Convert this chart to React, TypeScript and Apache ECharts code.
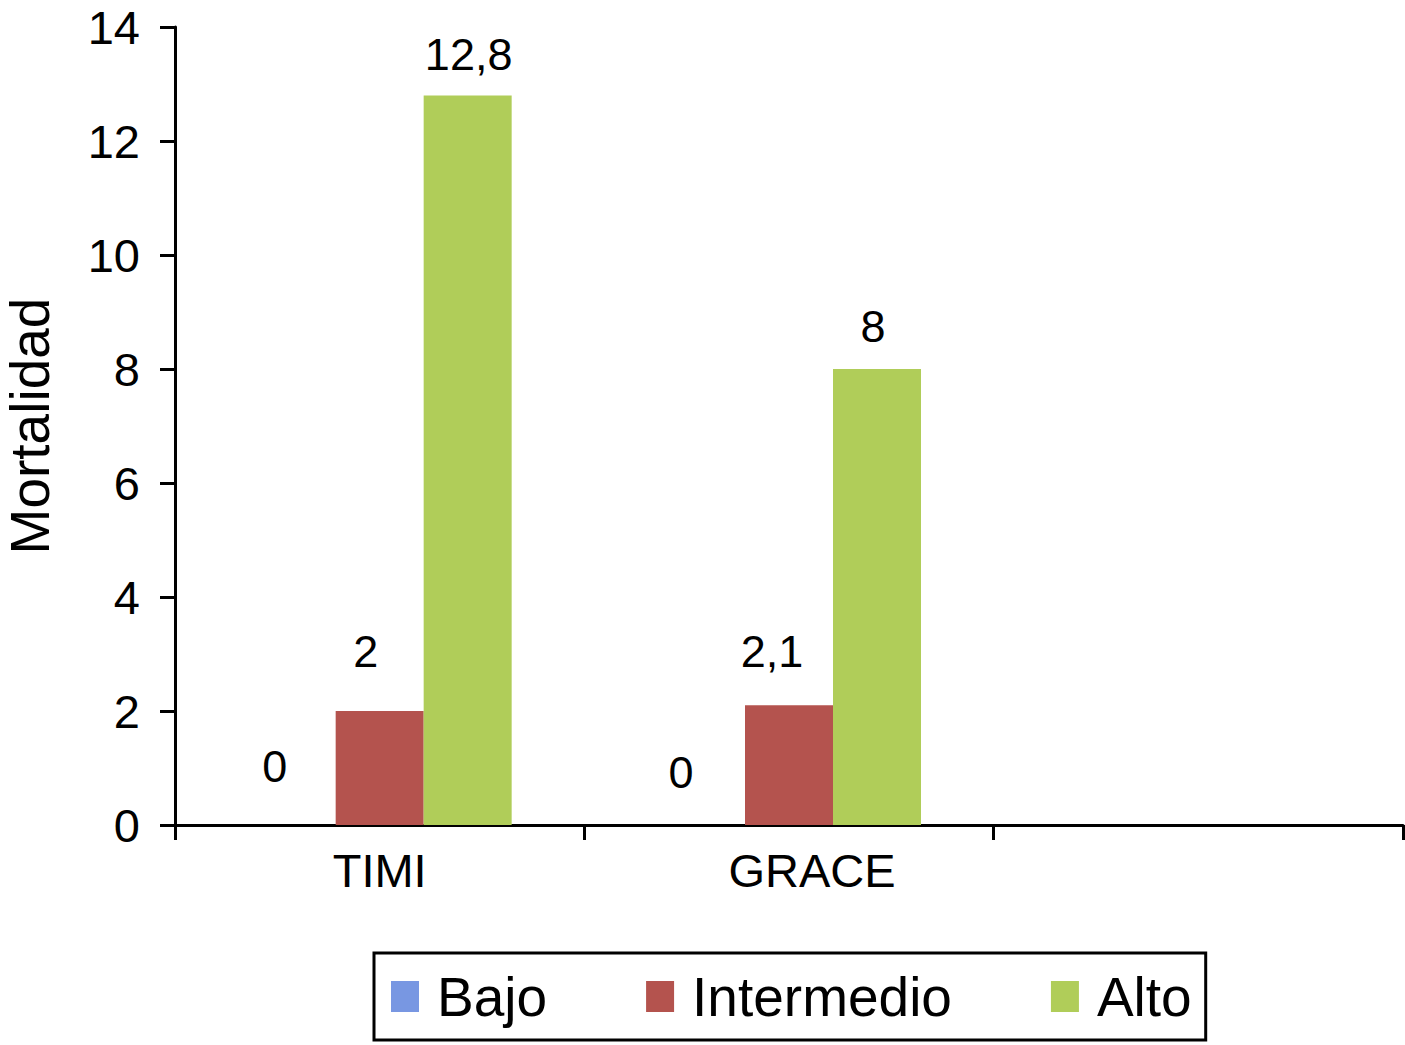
import React, { useEffect, useRef } from "react";
import * as echarts from "echarts";

const categories = ["TIMI", "GRACE", ""];
const seriesNames = ["Bajo", "Intermedio", "Alto"];
const bajo = [0, 0];
const intermedio = [2, 2.1];
const alto = [12.8, 8];
const yTicks = { min: 0, max: 14, interval: 2 };

const colors = ["#7897E2", "#B4534E", "#B0CD59"];
// label placement tweaks (style only)
const labelDx = [[-17, -20], [-14, -17], [1, -4]];
const labelDist = [[36, 30], [37, 31], [18, 20]];

const FONT = "Liberation Sans, Arial, Helvetica, sans-serif";

export default function App() {
  const ref = useRef<HTMLDivElement>(null);
  useEffect(() => {
    document.body.style.margin = "0";
    document.body.style.overflow = "hidden";
    const chart = echarts.init(ref.current!, null, { renderer: "svg" });
    const values = [bajo, intermedio, alto];
    const series = seriesNames.map((name, si) => ({
      name,
      type: "bar",
      barWidth: 88,
      barGap: "0%",
      itemStyle: { color: colors[si] },
      label: {
        show: true,
        position: "top",
        color: "#000",
        fontSize: 45,
        fontFamily: FONT,
        formatter: (p: any) => String(p.value).replace(".", ","),
      },
      data: values[si].map((v, i) => ({
        value: v,
        label: { distance: labelDist[si][i], offset: [labelDx[si][i], 0] },
      })),
    }));
    chart.setOption({
      animation: false,
      textStyle: { fontFamily: FONT },
      grid: { left: 175, right: 2, top: 27, bottom: 220, outerBoundsMode: "none" },
      legend: {
        data: seriesNames,
        left: 374,
        top: 953,
        orient: "horizontal",
        icon: "rect",
        itemWidth: 28,
        itemHeight: 31,
        itemGap: 99,
        padding: [16, 14, 16, 17],
        borderColor: "#000",
        borderWidth: 3,
        backgroundColor: "#fff",
        textStyle: { fontSize: 55, color: "#000", fontFamily: FONT, padding: [0, 0, 0, 13] },
      },
      xAxis: {
        type: "category",
        data: categories.map((c, i) =>
          i === 1 ? { value: c, textStyle: { padding: [0, 0, 0, 46] } } : c
        ),
        axisLine: { lineStyle: { color: "#000", width: 3 } },
        axisTick: { show: true, length: 15, lineStyle: { color: "#000", width: 3 } },
        axisLabel: { fontSize: 47, color: "#000", margin: 22, fontFamily: FONT },
        splitLine: { show: false },
      },
      yAxis: {
        type: "value",
        min: yTicks.min,
        max: yTicks.max,
        interval: yTicks.interval,
        name: "Mortalidad",
        nameLocation: "middle",
        nameRotate: 90,
        nameGap: 118,
        nameTextStyle: { fontSize: 55, color: "#000", fontFamily: FONT },
        axisLine: { show: true, lineStyle: { color: "#000", width: 3 } },
        axisTick: { show: true, length: 15, lineStyle: { color: "#000", width: 3 } },
        axisLabel: { fontSize: 47, color: "#000", margin: 35, fontFamily: FONT },
        splitLine: { show: false },
      },
      series,
    });
    return () => chart.dispose();
  }, []);
  return <div ref={ref} style={{ width: 1405, height: 1045 }} />;
}
